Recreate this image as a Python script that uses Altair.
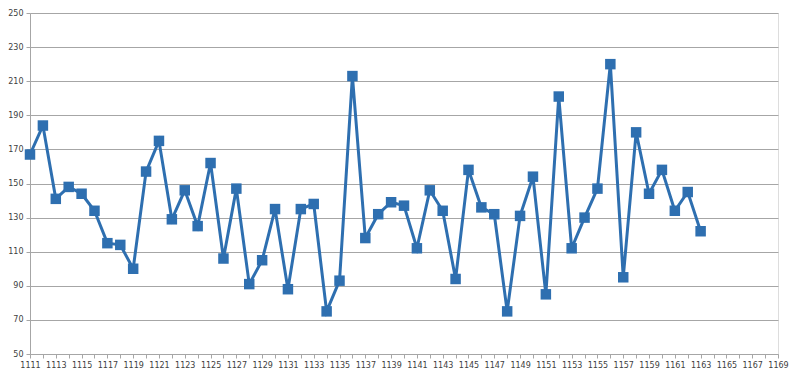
import altair as alt
import pandas as pd

categories = [str(y) for y in range(1111, 1170)]
years = [str(y) for y in range(1111, 1164)]
values = [167, 184, 141, 148, 144, 134, 115, 114, 100, 157,
          175, 129, 146, 125, 162, 106, 147, 91, 105, 135,
          88, 135, 138, 75, 93, 213, 118, 132, 139, 137,
          112, 146, 134, 94, 158, 136, 132, 75, 131, 154,
          85, 201, 112, 130, 147, 220, 95, 180, 144, 158,
          134, 145, 122]
y_ticks = [50, 70, 90, 110, 130, 150, 170, 190, 210, 230, 250]

df = pd.DataFrame({"year": years, "value": values})
color = "#2E6FB0"

x_enc = alt.X("year:O", scale=alt.Scale(domain=categories, type="point", padding=0),
              axis=alt.Axis(title=None, labelAngle=0, labelOverlap=False,
                            labelExpr="parseInt(datum.value) % 2 == 1 ? datum.value : ''",
                            labelFont="DejaVu Sans", labelFontSize=8, labelColor="#404040",
                            labelPadding=3, domainColor="#a6a6a6", tickColor="#a6a6a6",
                            tickSize=4, grid=False))
y_enc = alt.Y("value:Q", scale=alt.Scale(domain=[50, 250], nice=False, zero=False),
              axis=alt.Axis(title=None, values=y_ticks, labelFont="DejaVu Sans",
                            labelFontSize=8, labelColor="#404040", labelPadding=3,
                            domainColor="#a6a6a6", tickColor="#a6a6a6", tickSize=4,
                            gridColor="#a6a6a6", gridWidth=1))

base = alt.Chart(df).encode(x=x_enc, y=y_enc)
line = base.mark_line(color=color, strokeWidth=3)
pts = base.mark_point(shape="square", filled=True, size=110, color=color, opacity=1)

chart = (line + pts).properties(
    width=748, height=341,
    autosize=alt.AutoSizeParams(type="none"),
    padding={"left": 22, "top": 5, "right": 14, "bottom": 18},
).configure_view(stroke=None).configure(background="white")

chart.save("out.html", embed_options={"renderer": "svg", "actions": False})
